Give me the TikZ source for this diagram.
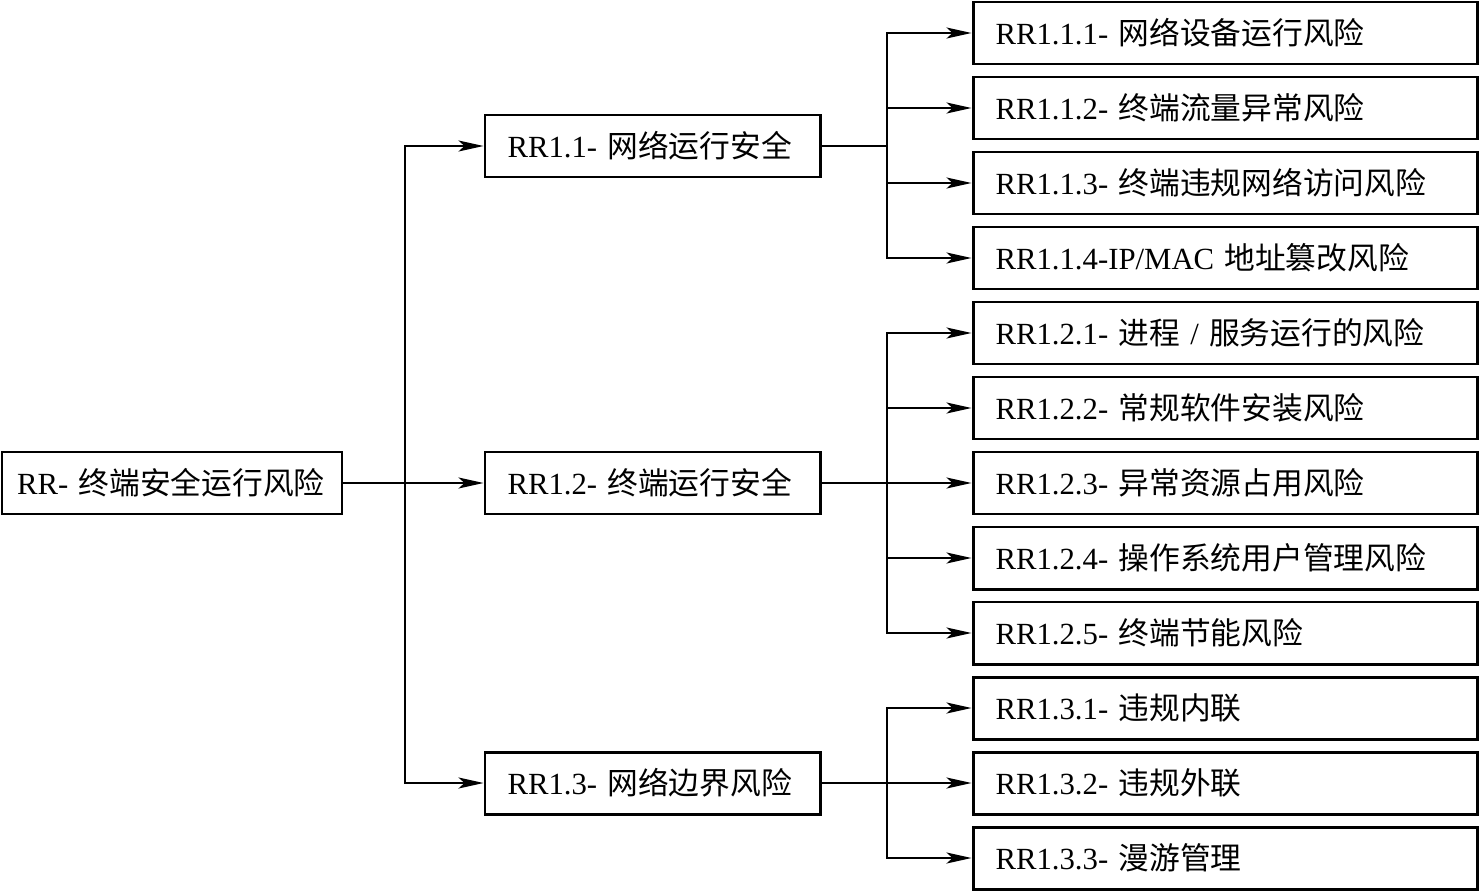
\documentclass[tikz,border=0pt]{standalone}
\usepackage{fontspec}
\setmainfont{Liberation Serif}
\newfontfamily\cjk{Noto Sans CJK SC}
\usetikzlibrary{arrows.meta, positioning, calc}

\begin{document}
\begin{tikzpicture}[
    rbox/.style={
      rectangle, draw, line width=1.7pt, inner xsep=0.45cm, minimum height=1.24cm,
      align=left, font=\fontsize{17.5}{20}\selectfont
    },
    mid/.style={rbox, text width=5.8cm},
    leaf/.style={rbox, text width=9.18cm},
    arr/.style={line width=1.2pt, -{Stealth[length=0.5cm, width=0.22cm, inset=0.12cm]}},
    lnk/.style={line width=1.2pt}
  ]
    \useasboundingbox (0,0) rectangle (29.58,-17.84);

    % root and second level
    \node[rbox, inner xsep=0.3cm, text width=6.2cm] (root) at (3.44,-9.66) {RR- \cjk 终端安全运行风险};
    \node[mid] (r11) at (13.05,-2.92) {RR1.1- \cjk 网络运行安全};
    \node[mid] (r12) at (13.05,-9.66) {RR1.2- \cjk 终端运行安全};
    \node[mid] (r13) at (13.05,-15.66) {RR1.3- \cjk 网络边界风险};

    % third level
    \node[leaf] (r111) at (24.5,-0.66) {RR1.1.1- \cjk 网络设备运行风险};
    \node[leaf] (r112) at (24.5,-2.16) {RR1.1.2- \cjk 终端流量异常风险};
    \node[leaf] (r113) at (24.5,-3.66) {RR1.1.3- \cjk 终端违规网络访问风险};
    \node[leaf] (r114) at (24.5,-5.16) {RR1.1.4-IP/MAC {\cjk 地址篡改风险}};
    \node[leaf] (r121) at (24.5,-6.66) {RR1.2.1- {\cjk 进程} / {\cjk 服务运行的风险}};
    \node[leaf] (r122) at (24.5,-8.16) {RR1.2.2- \cjk 常规软件安装风险};
    \node[leaf] (r123) at (24.5,-9.66) {RR1.2.3- \cjk 异常资源占用风险};
    \node[leaf] (r124) at (24.5,-11.16) {RR1.2.4- \cjk 操作系统用户管理风险};
    \node[leaf] (r125) at (24.5,-12.66) {RR1.2.5- \cjk 终端节能风险};
    \node[leaf] (r131) at (24.5,-14.16) {RR1.3.1- \cjk 违规内联};
    \node[leaf] (r132) at (24.5,-15.66) {RR1.3.2- \cjk 违规外联};
    \node[leaf] (r133) at (24.5,-17.16) {RR1.3.3- \cjk 漫游管理};

    % branch points
    \coordinate (t1) at (8.1,-9.66);
    \coordinate (t11) at (17.74,-2.92);
    \coordinate (t12) at (17.74,-9.66);
    \coordinate (t13) at (17.74,-15.66);

    \draw[arr] (root.east) -- (r12.west);
    \draw[arr] (t1) |- (r11.west);
    \draw[arr] (t1) |- (r13.west);

    \draw[lnk] (r11.east) -- (t11);
    \foreach \n in {r111, r112, r113, r114}
      \draw[arr] (t11) |- (\n.west);

    \draw[lnk] (r12.east) -- (t12);
    \foreach \n in {r121, r122, r123, r124, r125}
      \draw[arr] (t12) |- (\n.west);

    \draw[lnk] (r13.east) -- (t13);
    \foreach \n in {r131, r132, r133}
      \draw[arr] (t13) |- (\n.west);
  \end{tikzpicture}
\end{document}
